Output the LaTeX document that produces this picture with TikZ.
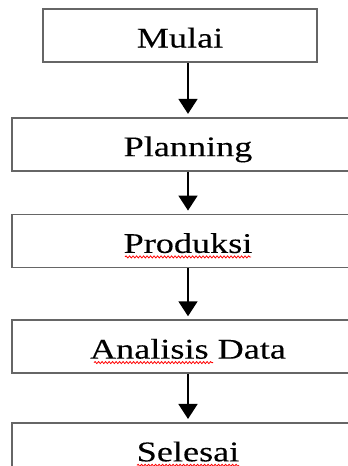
\documentclass[tikz,border=0pt]{standalone}
\usepackage{fontspec}
\setmainfont{Liberation Serif}[FakeStretch=1.27, FakeBold=0.12]
\usetikzlibrary{arrows.meta, positioning, decorations.pathmorphing}

\begin{document}
\begin{tikzpicture}[
  block/.style={draw=black!60, rectangle, line width=1.7pt, minimum width=352pt, minimum height=53pt, inner sep=0pt, text height=26pt, text depth=2pt, font=\fontsize{28.5}{32}\selectfont},
  arrow/.style={-{Triangle[length=15pt, width=19pt]}, line width=1.8pt, shorten >=3pt},
  squig/.style={red, line width=0.8pt, decorate, decoration={snake, amplitude=1pt, segment length=3.5pt}}
]
  \useasboundingbox (0,0) rectangle (348pt,-466pt);
  \clip (0,0) rectangle (348pt,-466pt);

  \node (mulai) [block, minimum width=274pt] at (180pt,-35.5pt) {Mulai};
  \node (plan) [block, below=54pt of mulai, xshift=8pt] {Planning};
  \node (prod) [block, below=42pt of plan] {Produksi};
  \node (ana) [block, below=51pt of prod] {Analisis Data};
  \node (sel) [block, below=48pt of ana] {Selesai};

  \draw[arrow] (mulai.south -| plan.north) -- (plan.north);
  \draw[arrow] (plan) -- (prod);
  \draw[arrow] (prod) -- (ana);
  \draw[arrow] (ana) -- (sel);

  % spelling marks
  \draw[squig] ([xshift=-63pt, yshift=-4pt]prod.base) -- ([xshift=63pt, yshift=-4pt]prod.base);
  \draw[squig] ([xshift=-94pt, yshift=-4pt]ana.base) -- ([xshift=25pt, yshift=-4pt]ana.base);
  \draw[squig] ([xshift=-51pt, yshift=-4pt]sel.base) -- ([xshift=51pt, yshift=-4pt]sel.base);
\end{tikzpicture}
\end{document}
